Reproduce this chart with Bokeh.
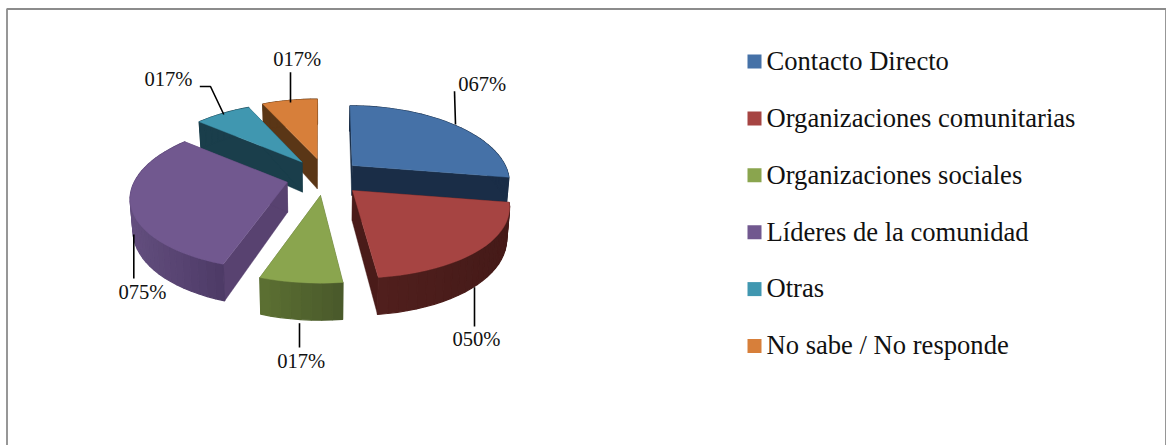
from bokeh.plotting import figure
from bokeh.models import ColumnDataSource, Range1d
from bokeh.core.properties import value
from bokeh.embed import file_html
from bokeh.resources import INLINE
import math

# ---- data ----
categories = ["Contacto Directo", "Organizaciones comunitarias", "Organizaciones sociales",
              "Líderes de la comunidad", "Otras", "No sabe / No responde"]
values = [67, 50, 17, 75, 17, 17]

# ---- styles ----
top_colors = ["#4571a7", "#a64442", "#8aa54e", "#71588f", "#4097b0", "#d77f3a"]
side_colors = ["#1a2d47", "#4a1b19", "#4d5e2a", "#584270", "#1a3e4b", "#5a3616"]
wall_left = ["#1a2d47", "#501f1d", "#5c7033", "#634e7e", "#1a3e4b", "#5a3616"]
wall_right = ["#1a2d47", "#451a18", "#49592a", "#4d3a66", "#1a3e4b", "#5a3616"]

# ---- layout (screen pixels) ----
apex_x = [351.7, 352.0, 320.0, 286.7, 301.7, 316.7]
apex_y = [165.0, 190.0, 195.0, 181.7, 161.7, 158.3]
draw_order = [5, 4, 3, 0, 2, 1]
R_X, R_Y, PERSP_X, PERSP_Y, DEPTH, CX = 153.0, 71.0, 0.21, 0.19, 30.0, 320.0
label_x = [481.7, 476, 300.7, 142, 168, 296.7]
label_y = [83, 338, 360, 291, 78, 58]
leader_x = [[454, 455], [474, 474], [299, 299], [133.3, 133.3], [199.3, 210, 223.3], [290, 290]]
leader_y = [[90.7, 124], [286.7, 326], [322.7, 347], [234, 278], [86, 86, 114], [71.7, 102]]
legend_y0, legend_step = 61.0, 56.9

def hex_mix(a, b, t):
    ca = [int(a[i:i + 2], 16) for i in (1, 3, 5)]
    cb = [int(b[i:i + 2], 16) for i in (1, 3, 5)]
    return "#%02x%02x%02x" % tuple(round(u + (v - u) * t) for u, v in zip(ca, cb))

def project(ax, ay, theta):
    X, Z = math.sin(theta), -math.cos(theta)
    wx, wy = 1 - PERSP_X * Z, 1 - PERSP_Y * Z
    sx = ax + R_X * X / wx + (ax - CX) * 0.4 * (1 / wx - 1)
    sy = ay + R_Y * Z / wy
    return sx, sy, DEPTH / wy

def lower(sx, sy, d):
    return CX + (sx - CX) * 0.985, sy + d

total = sum(values)
angles = [0.0]
for v in values:
    angles.append(angles[-1] + v / total * 2 * math.pi)

xs, ys, fills, widths = [], [], [], []
def add(px, py, c, lw=0.4):
    xs.append(px); ys.append(py); fills.append(c); widths.append(lw)

for i in draw_order:
    a0, a1 = angles[i], angles[i + 1]
    ax, ay = apex_x[i], apex_y[i]
    n = max(6, int((a1 - a0) / math.radians(3)))
    thetas = [a0 + (a1 - a0) * k / n for k in range(n + 1)]
    pts = [project(ax, ay, t) for t in thetas]
    low = [lower(*q) for q in pts]
    alow = lower(ax, ay, DEPTH)
    for q, l in ((pts[0], low[0]), (pts[-1], low[-1])):
        add([ax, q[0], l[0], alow[0]], [ay, q[1], l[1], alow[1]], side_colors[i])
    xmin = min(q[0] for q in pts); xmax = max(q[0] for q in pts)
    for k in range(n):
        mid = (pts[k][0] + pts[k + 1][0]) / 2
        t = (mid - xmin) / (xmax - xmin) if xmax > xmin else 0
        add([pts[k][0], pts[k + 1][0], low[k + 1][0], low[k][0]],
            [pts[k][1], pts[k + 1][1], low[k + 1][1], low[k][1]],
            hex_mix(wall_left[i], wall_right[i], t), 1.2)
    add([ax] + [q[0] for q in pts], [ay] + [q[1] for q in pts], top_colors[i])

p = figure(width=1166, height=445, output_backend="svg", toolbar_location=None,
           x_range=Range1d(0, 1166), y_range=Range1d(445, 0),
           x_axis_type=None, y_axis_type=None, min_border=0,
           background_fill_color="white",
           border_fill_color="white", outline_line_color=None)
p.grid.visible = False

# chart frame
p.line([6.5, 6.5, 1165.5, 1165.5], [446, 8.5, 8.5, 446], line_color="#8c8c8c", line_width=1.8)

src = ColumnDataSource(dict(xs=xs, ys=ys, fill=fills, lw=widths))
p.patches("xs", "ys", source=src, fill_color="fill", line_color="fill", line_width="lw")

p.multi_line(leader_x, leader_y, line_color="black", line_width=1.6)
p.text(label_x, label_y, text=["%03d%%" % v for v in values], text_font=value("Liberation Serif"),
       text_font_size="20.6px", text_color="#111111", text_align="center", text_baseline="middle")

ly = [legend_y0 + legend_step * i for i in range(len(categories))]
p.rect([754.0] * len(ly), ly, width=14, height=14, fill_color=top_colors, line_color=None)
p.text([766.0] * len(ly), [y - 0.7 for y in ly], text=categories, text_font=value("Liberation Serif"),
       text_font_size="26.6px", text_color="#111111", text_align="left", text_baseline="middle")

open("out.html", "w").write(file_html(p, INLINE))
